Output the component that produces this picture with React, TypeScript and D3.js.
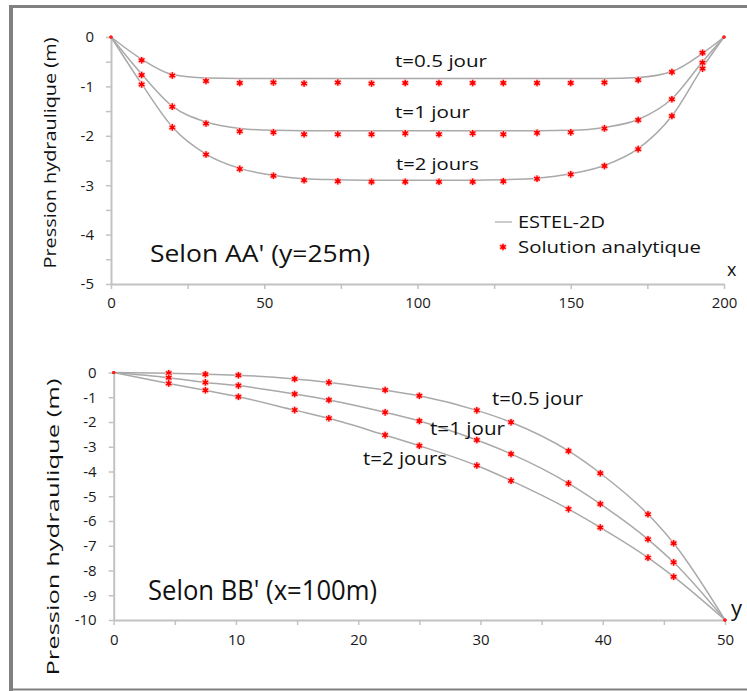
import React, { useEffect, useRef } from "react";
import * as d3 from "d3";

// Selon AA' (y=25m) : abscisses des noeuds et pressions
const topX = [0, 10, 20, 31, 42, 53, 63, 74, 85, 96, 107, 118, 128, 139, 150, 161, 172, 183, 193, 200];
const topPts05 = [0, -0.47, -0.78, -0.89, -0.93, -0.92, -0.94, -0.92, -0.94, -0.93, -0.93, -0.93, -0.93, -0.93, -0.93, -0.92, -0.87, -0.71, -0.32, 0];
const topPts1 = [0, -0.77, -1.41, -1.75, -1.91, -1.93, -1.97, -1.97, -1.97, -1.95, -1.97, -1.95, -1.97, -1.94, -1.93, -1.85, -1.68, -1.26, -0.52, 0];
const topPts2 = [0, -0.96, -1.83, -2.38, -2.67, -2.81, -2.9, -2.92, -2.93, -2.93, -2.93, -2.93, -2.92, -2.87, -2.78, -2.61, -2.27, -1.6, -0.64, 0];
// ESTEL-2D
const topLine05 = [0, -0.45, -0.76, -0.83, -0.84, -0.84, -0.84, -0.84, -0.84, -0.84, -0.84, -0.84, -0.84, -0.84, -0.84, -0.84, -0.82, -0.7, -0.33, 0];
const topLine1 = [0, -0.75, -1.4, -1.72, -1.85, -1.89, -1.9, -1.9, -1.9, -1.9, -1.9, -1.9, -1.9, -1.9, -1.89, -1.83, -1.67, -1.25, -0.5, 0];
const topLine2 = [0, -0.95, -1.82, -2.37, -2.66, -2.8, -2.87, -2.89, -2.9, -2.9, -2.9, -2.9, -2.89, -2.86, -2.77, -2.6, -2.26, -1.6, -0.62, 0];

// Selon BB' (x=100m)
const botX = [0, 4.5, 7.5, 10.2, 14.8, 17.6, 22.2, 25, 29.7, 32.5, 37.2, 39.8, 43.7, 45.8, 50];
const bot05 = [0, -0.03, -0.07, -0.11, -0.26, -0.4, -0.71, -0.94, -1.53, -2.01, -3.17, -4.07, -5.73, -6.9, -10];
const bot1 = [0, -0.21, -0.4, -0.53, -0.87, -1.11, -1.61, -1.96, -2.73, -3.29, -4.48, -5.31, -6.74, -7.67, -10];
const bot2 = [0, -0.44, -0.72, -0.98, -1.52, -1.85, -2.53, -2.96, -3.76, -4.37, -5.52, -6.26, -7.48, -8.25, -10];

const topXTicks = [0, 25, 50, 75, 100, 125, 150, 175, 200];
const topYTicks = [0, -0.5, -1, -1.5, -2, -2.5, -3, -3.5, -4, -4.5, -5];
const botXTicks = [0, 5, 10, 15, 20, 25, 30, 35, 40, 45, 50];
const botYTicks = [0, -1, -2, -3, -4, -5, -6, -7, -8, -9, -10];

const FONT = "'Open Sans', 'DejaVu Sans', sans-serif";
const AXIS = "#c2c2c2";
const LINE = "#a9a9a9";

const App = () => {
  const ref = useRef(null);

  useEffect(() => {
    const svg = d3.select(ref.current);
    svg.selectAll("*").remove();

    // cadre
    svg.append("line").attr("x1", 9).attr("x2", 747).attr("y1", 6.5).attr("y2", 6.5)
      .attr("stroke", "#808080").attr("stroke-width", 3);
    svg.append("line").attr("x1", 11).attr("x2", 11).attr("y1", 5).attr("y2", 691)
      .attr("stroke", "#808080").attr("stroke-width", 4);
    svg.append("line").attr("x1", 9).attr("x2", 747).attr("y1", 689.5).attr("y2", 689.5)
      .attr("stroke", "#808080").attr("stroke-width", 2);

    const marker = (g, px, py, edge) => {
      if (edge) {
        g.append("circle").attr("cx", px).attr("cy", py).attr("r", 1.6).attr("fill", "#ff2020");
        return;
      }
      g.append("circle").attr("cx", px).attr("cy", py).attr("r", 3.8).attr("fill", "#ffc4c4").attr("opacity", 0.8);
      g.append("path").attr("transform", `translate(${px},${py})`)
        .attr("d", d3.symbol(d3.symbolAsterisk, 30)())
        .attr("stroke", "#ff0000").attr("stroke-width", 1.4).attr("fill", "none");
      g.append("circle").attr("cx", px).attr("cy", py).attr("r", 1.9).attr("fill", "#ff0000");
    };

    const styleAxis = (g) => {
      g.select(".domain").attr("stroke", AXIS).attr("stroke-width", 2);
      g.selectAll(".tick line").attr("stroke", AXIS).attr("stroke-width", 1.5);
      g.selectAll("text").attr("font-family", FONT).attr("font-size", 15)
        .attr("font-weight", 500).attr("fill", "#1a1a1a");
    };

    const fmt = (d) => (Number.isInteger(d) ? String(d) : "");
    const fmtX = (step) => (d) => (d % step === 0 ? String(d) : "");

    // ---------- graphe du haut ----------
    const x1 = d3.scaleLinear().domain([0, 200]).range([111, 724]);
    const y1 = d3.scaleLinear().domain([-5, 0]).range([284, 37]);

    svg.append("g").attr("transform", "translate(0,284)")
      .call(d3.axisBottom(x1).tickValues(topXTicks).tickFormat(fmtX(50)).tickSize(5).tickSizeOuter(0).tickPadding(8))
      .call(styleAxis);
    svg.append("g").attr("transform", "translate(111,0)")
      .call(d3.axisLeft(y1).tickValues(topYTicks).tickFormat(fmt).tickSize(5).tickSizeOuter(0).tickPadding(12))
      .call(styleAxis);

    const line1 = d3.line().x((d) => x1(d[0])).y((d) => y1(d[1])).curve(d3.curveMonotoneX);
    [topLine05, topLine1, topLine2].forEach((vals) => {
      svg.append("path").attr("d", line1(topX.map((x, i) => [x, vals[i]])))
        .attr("fill", "none").attr("stroke", LINE).attr("stroke-width", 1.5);
    });
    const gp1 = svg.append("g");
    [topPts05, topPts1, topPts2].forEach((vals) => {
      topX.forEach((x, i) => marker(gp1, x1(x), y1(vals[i]), x === 0 || x === 200));
    });

    const txt = (x, y, s, size, len, extra) => {
      const t = svg.append("text").attr("x", x).attr("y", y).text(s)
        .attr("font-family", FONT).attr("font-size", size).attr("font-weight", 500).attr("fill", "#111");
      if (len) t.attr("textLength", len).attr("lengthAdjust", "spacingAndGlyphs");
      if (extra) extra(t);
      return t;
    };

    txt(395, 67, "t=0.5 jour", 17, 92);
    txt(395, 118, "t=1 jour", 17, 75);
    txt(396, 170, "t=2 jours", 17, 83);
    txt(150, 262, "Selon AA' (y=25m)", 24, 220);
    txt(727, 276, "x", 18);
    txt(50, 153, "Pression hydraulique (m)", 17, 231, (t) =>
      t.attr("transform", "rotate(-90,50,153)").attr("x", 50).attr("y", 153)
        .attr("text-anchor", "middle").attr("dy", "0.35em"));

    // légende
    svg.append("line").attr("x1", 495).attr("x2", 512).attr("y1", 222).attr("y2", 222)
      .attr("stroke", LINE).attr("stroke-width", 1.2);
    txt(518, 228, "ESTEL-2D", 17, 87);
    marker(svg, 503, 247, false);
    txt(518, 253, "Solution analytique", 17, 183);

    // ---------- graphe du bas ----------
    const x2 = d3.scaleLinear().domain([0, 50]).range([113.7, 725]);
    const y2 = d3.scaleLinear().domain([-10, 0]).range([620, 372.5]);

    svg.append("g").attr("transform", "translate(0,620)")
      .call(d3.axisBottom(x2).tickValues(botXTicks).tickFormat(fmtX(10)).tickSize(5).tickSizeOuter(0).tickPadding(9))
      .call(styleAxis);
    svg.append("g").attr("transform", "translate(113.7,0)")
      .call(d3.axisLeft(y2).tickValues(botYTicks).tickFormat(fmt).tickSize(5).tickSizeOuter(0).tickPadding(12))
      .call(styleAxis);

    const line2 = d3.line().x((d) => x2(d[0])).y((d) => y2(d[1])).curve(d3.curveMonotoneX);
    [bot05, bot1, bot2].forEach((vals) => {
      svg.append("path").attr("d", line2(botX.map((x, i) => [x, vals[i]])))
        .attr("fill", "none").attr("stroke", LINE).attr("stroke-width", 1.5);
    });
    const gp2 = svg.append("g");
    [bot05, bot1, bot2].forEach((vals) => {
      botX.forEach((x, i) => marker(gp2, x2(x), y2(vals[i]), x === 0 || x === 50));
    });

    txt(492, 405, "t=0.5 jour", 19, 91);
    txt(430, 435, "t=1 jour", 19, 75);
    txt(363, 465, "t=2 jours", 19, 84);
    txt(148, 600, "Selon BB' (x=100m)", 28, 229);
    txt(731, 616, "y", 22);
    txt(53, 527, "Pression hydraulique (m)", 17, 297, (t) =>
      t.attr("transform", "rotate(-90,53,527)").attr("x", 53).attr("y", 527)
        .attr("text-anchor", "middle").attr("dy", "0.35em"));
  }, []);

  return (
    <svg
      ref={ref}
      width={747}
      height={691}
      style={{ position: "absolute", left: 0, top: 0, background: "#fff" }}
    />
  );
};

export default App;
